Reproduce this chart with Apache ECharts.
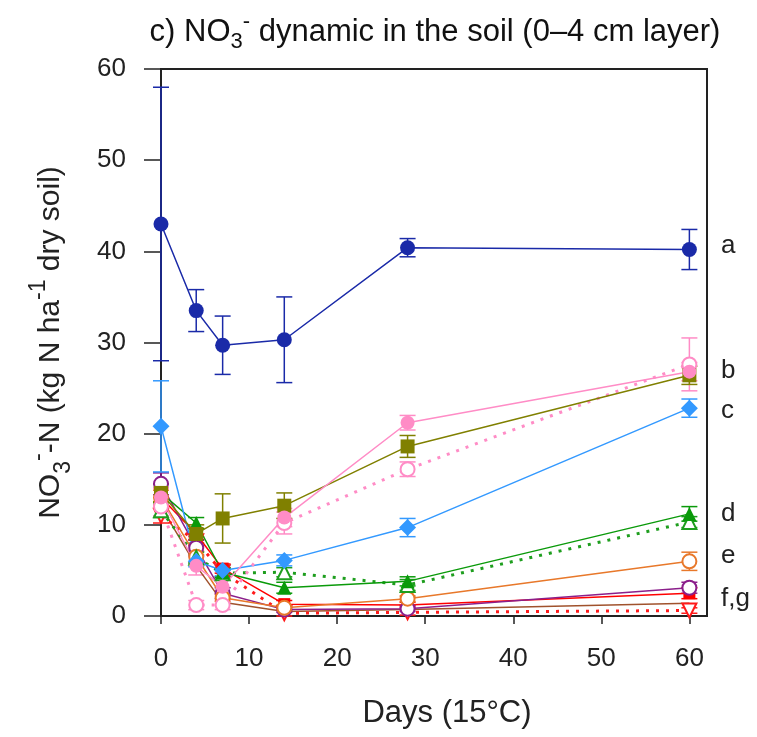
<!DOCTYPE html>
<html>
<head>
<meta charset="utf-8">
<script src="https://cdn.jsdelivr.net/npm/echarts@6/dist/echarts.min.js"></script>
<style>
html, body { margin: 0; padding: 0; background: #fff; }
#chart { width: 757px; height: 737px; }
</style>
</head>
<body>
<div id="chart"></div>
<script>
var days = [0, 4, 7, 14, 28, 60];
var xTicks = [0, 10, 20, 30, 40, 50, 60];
var yTicks = [0, 10, 20, 30, 40, 50, 60];

// means and error bars
var navyVals = [43.0, 33.5, 29.7, 30.3, 40.4, 40.2];
var navyErr = [15.0, 2.3, 3.2, 4.7, 1.0, 2.2];
var oliveVals = [13.5, 9.0, 10.7, 12.1, 18.6, 26.4];
var oliveErr = [1.0, 1.0, 2.7, 1.4, 1.2, 1.0];
var pinkVals = [13.0, 5.5, 3.2, 10.8, 21.2, 26.8];
var pinkErr = [1.0, 1.0, 0.8, 1.0, 0.8, 1.0];
var pinkOpenVals = [12.0, 1.2, 1.2, 10.2, 16.1, 27.6];
var pinkOpenErr = [1.0, 0.5, 0.5, 1.2, 0.8, 2.9];
var blueVals = [20.8, 6.0, 5.0, 6.1, 9.7, 22.8];
var blueErr = [5.0, 0.6, 0.6, 0.6, 1.0, 1.0];
var greenVals = [13.5, 10.2, 4.8, 3.1, 3.8, 11.2];
var greenErr = [1.0, 0.6, 0.5, 0.6, 0.5, 0.8];
var greenOpenVals = [11.6, 6.4, 4.7, 4.8, 3.4, 10.3];
var greenOpenErr = [0.8, 0.6, 0.5, 0.5, 0.6, 0.6];
var orangeVals = [13.0, 6.5, 2.0, 0.9, 1.9, 6.0];
var orangeErr = [0.8, 0.6, 0.4, 0.3, 0.3, 1.0];
var purpleVals = [14.5, 7.5, 2.5, 0.7, 0.8, 3.1];
var purpleErr = [1.2, 0.8, 0.6, 0.3, 0.3, 0.6];
var redVals = [13.0, 9.0, 5.2, 1.3, 1.2, 2.5];
var redErr = [1.0, 0.6, 0.5, 0.4, 0.3, 0.6];
var redOpenVals = [11.0, 8.2, 4.8, 0.3, 0.4, 0.6];
var redOpenErr = [0.8, 0.5, 0.5, 0.3, 0.3, 0.3];
var brownVals = [12.0, 5.5, 1.5, 0.5, 0.7, 1.4];

// letter annotations on the right
var letters = ['a', 'b', 'c', 'd', 'e', 'f,g'];
var letterY = [40.6, 26.9, 22.5, 11.2, 6.6, 1.9];
var letterX = 63.6;

var FONT = 'Liberation Sans, Arial, sans-serif';

var defs = [
	{ vals: brownVals, err: null, color: '#a0522d', symbol: 'none', dash: 'solid' },
	{ vals: redOpenVals, err: redOpenErr, color: '#ff1a1a', symbol: 'emptyTriangle', rotate: 180, dash: [3, 7] },
	{ vals: redVals, err: redErr, color: '#ff0000', symbol: 'rect', size: 12, dash: 'solid' },
	{ vals: purpleVals, err: purpleErr, color: '#8b1f8b', symbol: 'emptyCircle', dash: 'solid' },
	{ vals: orangeVals, err: orangeErr, color: '#e8782a', symbol: 'emptyCircle', dash: 'solid' },
	{ vals: greenOpenVals, err: greenOpenErr, color: '#1e9e1e', symbol: 'emptyTriangle', dash: [3, 7] },
	{ vals: greenVals, err: greenErr, color: '#0a9a0a', symbol: 'triangle', dash: 'solid' },
	{ vals: blueVals, err: blueErr, color: '#3399ff', symbol: 'diamond', size: 17, dash: 'solid' },
	{ vals: pinkOpenVals, err: pinkOpenErr, color: '#ff8cc6', symbol: 'emptyCircle', dash: [3, 7] },
	{ vals: oliveVals, err: oliveErr, color: '#808000', symbol: 'rect', size: 14, dash: 'solid' },
	{ vals: pinkVals, err: pinkErr, color: '#ff8cc6', symbol: 'circle', dash: 'solid' },
	{ vals: navyVals, err: navyErr, color: '#1a2aa8', symbol: 'circle', size: 15, dash: 'solid' }
];

function errSeries(d) {
	var data = days.map(function (x, i) { return [x, d.vals[i], d.err[i]]; });
	return {
		type: 'custom',
		z: 2,
		silent: true,
		data: data,
		renderItem: function (params, api) {
			var x = api.value(0), y = api.value(1), e = api.value(2);
			var top = api.coord([x, y + e]);
			var bot = api.coord([x, y - e]);
			var cw = 8;
			var st = { stroke: d.color, lineWidth: 1.5 };
			return {
				type: 'group',
				children: [
					{ type: 'line', shape: { x1: top[0], y1: top[1], x2: bot[0], y2: bot[1] }, style: st },
					{ type: 'line', shape: { x1: top[0] - cw, y1: top[1], x2: top[0] + cw, y2: top[1] }, style: st },
					{ type: 'line', shape: { x1: bot[0] - cw, y1: bot[1], x2: bot[0] + cw, y2: bot[1] }, style: st }
				]
			};
		}
	};
}

var series = [];
defs.forEach(function (d) {
	if (d.err) series.push(errSeries(d));
});
defs.forEach(function (d) {
	series.push({
		type: 'line',
		z: 3,
		data: days.map(function (x, i) { return [x, d.vals[i]]; }),
		symbol: d.symbol,
		symbolSize: d.size || 14,
		symbolRotate: d.rotate || 0,
		showAllSymbol: true,
		animation: false,
		itemStyle: { color: d.color, borderColor: d.color, borderWidth: d.symbol.indexOf('empty') === 0 ? 2.5 : 0 },
		lineStyle: { color: d.color, width: d.dash === 'solid' ? 1.5 : 3, type: d.dash }
	});
});

var chart = echarts.init(document.getElementById('chart'));

chart.setOption({
	animation: false,
	title: {
		text: 'c) NO{sub|3}{sup|-} dynamic in the soil (0\u20134 cm layer)',
		left: 430,
		textAlign: 'center',
		top: 6,
		textStyle: {
			fontFamily: FONT, fontSize: 31, fontWeight: 'normal', color: '#111',
			rich: {
				sub: { fontFamily: FONT, fontSize: 22, color: '#111', verticalAlign: 'bottom', lineHeight: 42 },
				sup: { fontFamily: FONT, fontSize: 22, color: '#111', verticalAlign: 'top', lineHeight: 42 }
			}
		}
	},
	grid: {
		left: 161, right: 50, top: 69, bottom: 121,
		show: true, borderColor: '#222', borderWidth: 2, backgroundColor: 'transparent'
	},
	xAxis: {
		type: 'value',
		min: 0, max: 62, interval: 10,
		name: 'Days (15\u00b0C)',
		nameLocation: 'middle',
		nameGap: 82,
		nameTextStyle: { fontFamily: FONT, fontSize: 31, color: '#222', padding: [0, 0, 0, 26] },
		axisLine: { lineStyle: { color: '#222', width: 2 } },
		axisTick: { show: true, length: 8, inside: false, customValues: xTicks, lineStyle: { color: '#222', width: 1.5 } },
		axisLabel: { customValues: xTicks, margin: 30, fontFamily: FONT, fontSize: 26, color: '#222' },
		splitLine: { show: false }
	},
	yAxis: {
		type: 'value',
		min: 0, max: 60, interval: 10,
		name: 'NO{sub|3}{sup|-}-N (kg N ha{sup|-1} dry soil)',
		nameLocation: 'middle',
		nameGap: 86,
		nameTextStyle: {
			fontFamily: FONT, fontSize: 30, color: '#222',
			rich: {
				sub: { fontFamily: FONT, fontSize: 23, color: '#222', verticalAlign: 'bottom', lineHeight: 48 },
				sup: { fontFamily: FONT, fontSize: 23, color: '#222', verticalAlign: 'top', lineHeight: 48 }
			}
		},
		axisLine: { lineStyle: { color: '#222', width: 2 } },
		axisTick: { show: true, length: 17, inside: false, customValues: yTicks, lineStyle: { color: '#222', width: 1.5 } },
		axisLabel: { customValues: yTicks, margin: 35, fontFamily: FONT, fontSize: 26, color: '#222' },
		splitLine: { show: false }
	},
	series: series
});

var graphic = letters.map(function (t, i) {
	var p = chart.convertToPixel({ gridIndex: 0 }, [letterX, letterY[i]]);
	return {
		type: 'text',
		x: p[0],
		y: p[1],
		style: { text: t, fontFamily: FONT, fontSize: 26, fill: '#222', verticalAlign: 'middle', align: 'left' }
	};
});
chart.setOption({ graphic: graphic });
</script>
</body>
</html>
